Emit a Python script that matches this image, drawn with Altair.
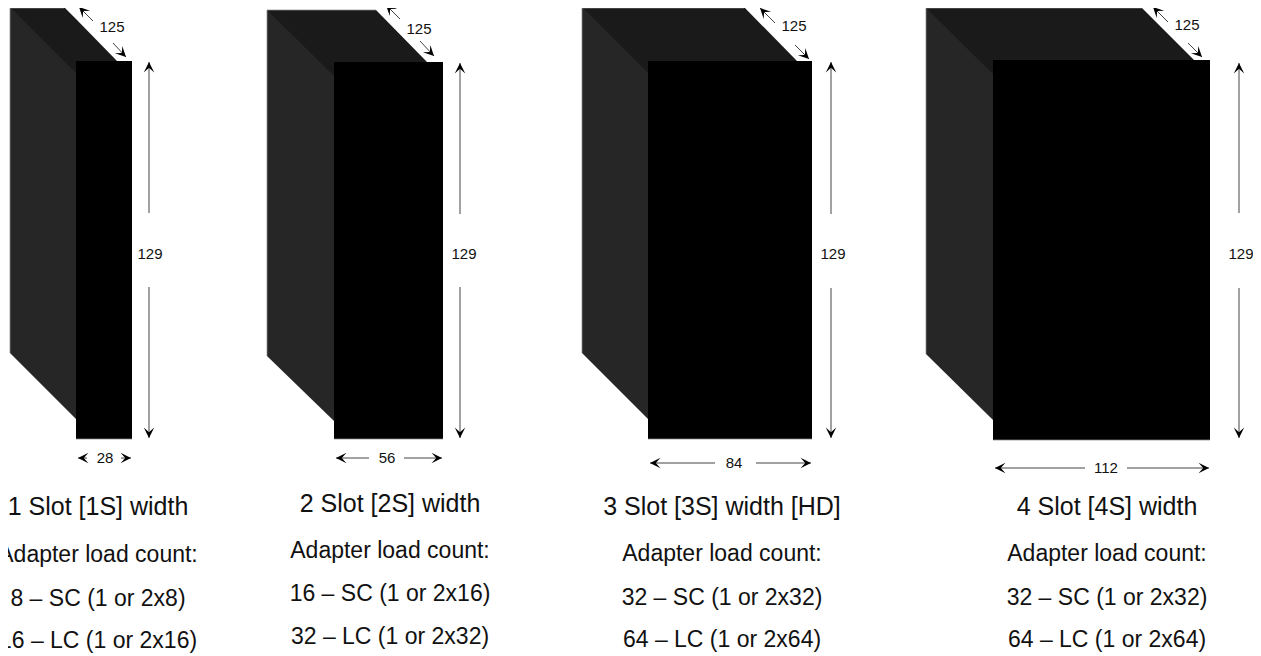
import altair as alt
import pandas as pd

FONT = "Liberation Sans"

# --- box faces, one entry per panel (pixels)
panels = [1, 2, 3, 4]
front_x = [76, 334, 648, 993]
front_x2 = [132, 443, 812, 1210]
front_y = [61, 62, 61, 60]
front_y2 = [439, 439, 439, 440]

side_x = [[10, 76], [267, 334], [582, 648], [926, 993]]
side_top = [[7, 73], [10, 76], [7, 73], [8, 74]]
side_bottom = [[353, 419], [356, 421], [353, 419], [354, 420]]

top_x = [[10, 64, 76, 117], [267, 334, 376, 427], [582, 648, 744, 797], [926, 993, 1142, 1194]]
top_upper = [[7, 7, 19, 61], [10, 10, 10, 62], [7, 7, 7, 61], [8, 8, 8, 60]]
top_lower = [[9, 67, 75, 75], [12, 78, 78, 78], [9, 75, 75, 75], [10, 76, 76, 76]]

# --- thin grey edges: back top edge, back left edge, front bottom edge
edge_x1 = [10, 10, 76, 267, 267, 334, 582, 582, 648, 926, 926, 993]
edge_y1 = [8, 8, 439, 10, 10, 439, 8, 8, 439, 8, 8, 440]
edge_x2 = [64, 10, 132, 376, 267, 443, 744, 582, 812, 1142, 926, 1210]
edge_y2 = [8, 353, 439, 10, 356, 439, 8, 353, 439, 8, 354, 440]

# --- dimension lines: tail x/y, head x/y, head angle
arrow_x1 = [93, 113, 149, 149, 87, 121,
            400, 420, 460, 460, 369, 404,
            775, 795, 831, 831, 715, 756,
            1168, 1188, 1239, 1239, 1085, 1127]
arrow_y1 = [21, 43, 213, 287, 458, 458,
            19, 41, 214, 287, 458, 458,
            23, 45, 214, 288, 463, 463,
            22, 43, 213, 288, 468, 468]
arrow_x2 = [79, 126, 149, 149, 78, 131,
            386, 434, 460, 460, 336, 442,
            760, 809, 831, 831, 650, 811,
            1153, 1202, 1239, 1239, 995, 1209]
arrow_y2 = [7, 57, 62, 438, 458, 458,
            5, 56, 63, 438, 458, 458,
            8, 59, 62, 438, 463, 463,
            7, 57, 63, 438, 468, 468]
arrow_angle = [315, 135, 0, 180, 270, 90] * 4

# --- dimension labels
dim_text = ["125", "129", "28", "125", "129", "56", "125", "129", "84", "125", "129", "112"]
dim_x = [112, 150, 105, 419, 464, 387, 794, 833, 734, 1187, 1241, 1106]
dim_y = [27, 254, 458, 29, 254, 458, 26, 254, 463, 25, 254, 468]

# --- captions
cap_title = ["1 Slot [1S] width", "2 Slot [2S] width", "3 Slot [3S] width [HD]", "4 Slot [4S] width"]
cap_center = [98, 390, 722, 1107]
cap_title_y = [515, 512, 515, 515]
cap_body = [
    ["Adapter load count:", "8 – SC (1 or 2x8)", "16 – LC (1 or 2x16)"],
    ["Adapter load count:", "16 – SC (1 or 2x16)", "32 – LC (1 or 2x32)"],
    ["Adapter load count:", "32 – SC (1 or 2x32)", "64 – LC (1 or 2x64)"],
    ["Adapter load count:", "32 – SC (1 or 2x32)", "64 – LC (1 or 2x64)"],
]
cap_body_y = [[562, 606, 648], [558, 601, 644], [561, 605, 647], [561, 605, 647]]

X = alt.Scale(domain=[8, 1253], range=[0, 1245])
Y = alt.Scale(domain=[8, 656], range=[0, 648])


def xq(f):
    return alt.X(f, type="quantitative", axis=None, scale=X)


def yq(f):
    return alt.Y(f, type="quantitative", axis=None, scale=Y)


front = pd.DataFrame({"x": front_x, "x2": front_x2, "y": front_y, "y2": front_y2, "p": panels})
side = pd.DataFrame(
    [
        {"p": p, "x": x, "y": a, "y2": b}
        for p, xs, us, ls in zip(panels, side_x, side_top, side_bottom)
        for x, a, b in zip(xs, us, ls)
    ]
)
top = pd.DataFrame(
    [
        {"p": p, "x": x, "y": a, "y2": b}
        for p, xs, us, ls in zip(panels, top_x, top_upper, top_lower)
        for x, a, b in zip(xs, us, ls)
    ]
)
edges = pd.DataFrame({"x": edge_x1, "y": edge_y1, "x2": edge_x2, "y2": edge_y2})
arrows = pd.DataFrame({"x": arrow_x1, "y": arrow_y1, "x2": arrow_x2, "y2": arrow_y2, "a": arrow_angle})
dims = pd.DataFrame({"t": dim_text, "x": dim_x, "y": dim_y})
titles = pd.DataFrame({"t": cap_title, "x": cap_center, "y": cap_title_y})
body = pd.DataFrame(
    [
        {"t": t, "x": c, "y": y}
        for c, ts, ys in zip(cap_center, cap_body, cap_body_y)
        for t, y in zip(ts, ys)
    ]
)

top_layer = alt.Chart(top).mark_area(color="#1a1a1a").encode(
    x=xq("x"), y=yq("y"), y2="y2", detail="p:N"
)
side_layer = alt.Chart(side).mark_area(color="#262626").encode(
    x=xq("x"), y=yq("y"), y2="y2", detail="p:N"
)
front_layer = alt.Chart(front).mark_rect(color="#000000").encode(
    x=xq("x"), x2="x2", y=yq("y"), y2="y2"
)
edge_layer = alt.Chart(edges).mark_rule(color="#8c8c8c", strokeWidth=0.75).encode(
    x=xq("x"), x2="x2", y=yq("y"), y2="y2"
)
rule_layer = alt.Chart(arrows).mark_rule(color="#444444", strokeWidth=1).encode(
    x=xq("x"), x2="x2", y=yq("y"), y2="y2"
)
head_layer = alt.Chart(arrows).mark_point(
    shape="M0,0 L1,2 L0,1.1 L-1,2 Z", filled=True, color="#000000", opacity=1
).encode(
    x=xq("x2"), y=yq("y2"), angle=alt.Angle("a:Q", scale=None), size=alt.value(110)
)
dim_layer = alt.Chart(dims).mark_text(font=FONT, fontSize=15, color="#111111", baseline="middle", align="center").encode(
    x=xq("x"), y=yq("y"), text="t:N"
)
title_layer = alt.Chart(titles).mark_text(font=FONT, fontSize=25, color="#111111", baseline="alphabetic", align="center").encode(
    x=xq("x"), y=yq("y"), text="t:N"
)
body_layer = alt.Chart(body).mark_text(font=FONT, fontSize=23, color="#111111", baseline="alphabetic", align="center").encode(
    x=xq("x"), y=yq("y"), text="t:N"
)

chart = (
    alt.layer(top_layer, side_layer, front_layer, edge_layer, rule_layer, head_layer, dim_layer, title_layer, body_layer)
    .properties(width=1245, height=648, padding=0, autosize=alt.AutoSizeParams(type="none"), background="#ffffff")
    .configure_view(stroke=None)
)
chart.save("out.html", embed_options={"renderer": "svg", "actions": False})
